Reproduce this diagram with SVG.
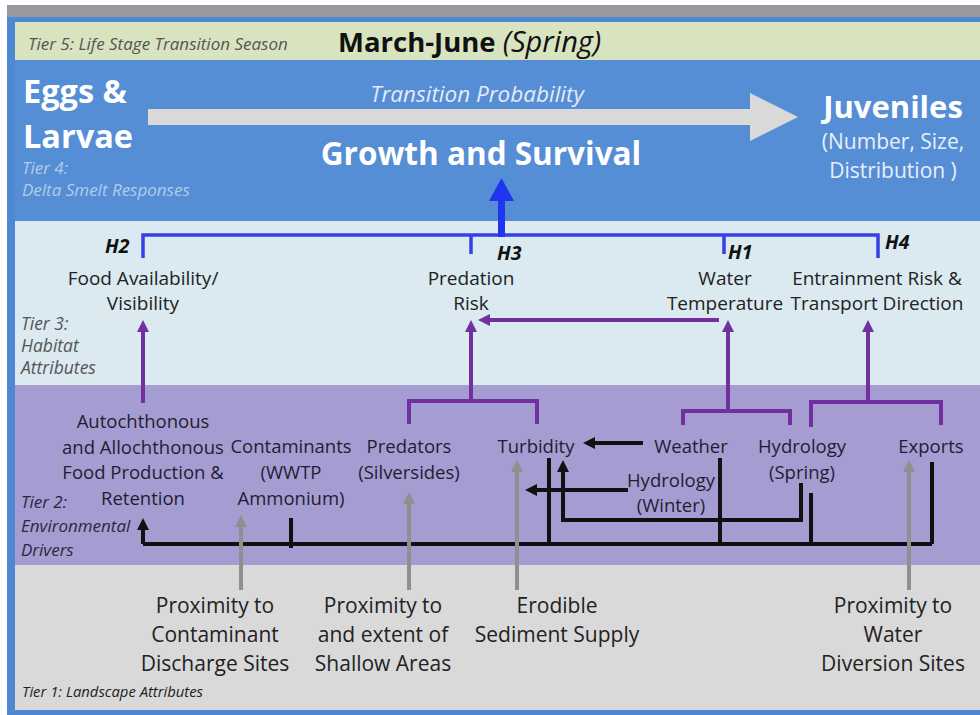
<svg xmlns="http://www.w3.org/2000/svg" width="980" height="715" viewBox="0 0 980 715">
  <style>
    .lbl { font-family: "Open Sans", Lato, "Liberation Sans", sans-serif; }
    .tier { font-family: "Open Sans", Lato, "Liberation Sans", sans-serif; font-style: italic; font-size: 17px; fill: #555; }
    .t3 { font-size: 19px; fill: #222; text-anchor: middle; }
    .t2 { font-size: 18.5px; fill: #1f1d33; text-anchor: middle; }
    .t1 { font-size: 21px; fill: #222; text-anchor: middle; }
    .hyp { font-size: 19.5px; font-weight: bold; font-style: italic; fill: #111; }
    .pur { fill: none; stroke: #7030a0; stroke-width: 4; }
    .blk { fill: none; stroke: #111; stroke-width: 4; }
    .gry { fill: none; stroke: #8f8f8f; stroke-width: 4; }
    .blu { fill: none; stroke: #3441e6; stroke-width: 3.5; }
  </style>
  <defs>
    <marker id="ahPur" markerUnits="userSpaceOnUse" markerWidth="12" markerHeight="12" viewBox="0 0 12 12" refX="2" refY="6" orient="auto">
      <path d="M0,0 L12,6 L0,12 Z" fill="#7030a0"/>
    </marker>
    <marker id="ahBlk" markerUnits="userSpaceOnUse" markerWidth="12" markerHeight="12" viewBox="0 0 12 12" refX="2" refY="6" orient="auto">
      <path d="M0,0 L12,6 L0,12 Z" fill="#111"/>
    </marker>
    <marker id="ahGry" markerUnits="userSpaceOnUse" markerWidth="12" markerHeight="12" viewBox="0 0 12 12" refX="2" refY="6" orient="auto">
      <path d="M0,0 L12,6 L0,12 Z" fill="#8f8f8f"/>
    </marker>
  </defs>

  <!-- frame and tier bands -->
  <rect x="0" y="0" width="980" height="715" fill="#ffffff"/>
  <rect x="7" y="5" width="973" height="13" fill="#98989e"/>
  <rect x="7" y="17" width="973" height="698" fill="#4f88d2"/>
  <rect x="15" y="22" width="965" height="38" fill="#d8e4bf"/>
  <rect x="15" y="60" width="965" height="161" fill="#558ed5"/>
  <rect x="15" y="221" width="965" height="164" fill="#dbe9f1"/>
  <rect x="15" y="385" width="965" height="180" fill="#a59dd1"/>
  <rect x="15" y="565" width="965" height="145" fill="#d9d9d9"/>

  <!-- tier labels -->
  <text class="tier" x="28" y="50">Tier 5: Life Stage Transition Season</text>
  <text class="tier" x="22" y="174" style="fill:#b3cbeb">Tier 4:</text>
  <text class="tier" x="22" y="196" style="fill:#b3cbeb">Delta Smelt Responses</text>
  <text class="tier" x="21" y="330" style="font-size:17.5px">Tier 3:</text>
  <text class="tier" x="21" y="352" style="font-size:17.5px">Habitat</text>
  <text class="tier" x="21" y="374" style="font-size:17.5px">Attributes</text>
  <text class="tier" x="21" y="508" style="fill:#2a2840">Tier 2:</text>
  <text class="tier" x="21" y="532" style="fill:#2a2840">Environmental</text>
  <text class="tier" x="21" y="556" style="fill:#2a2840">Drivers</text>
  <text class="tier" x="22" y="697" style="fill:#222;font-size:14.8px">Tier 1: Landscape Attributes</text>

  <!-- season -->
  <g id="season">
    <text class="lbl" x="338" y="52" style="font-size:27.5px;font-weight:bold;fill:#111">March-June <tspan style="font-weight:normal;font-style:italic;font-size:29px">(Spring)</tspan></text>
  </g>

  <!-- life stages -->
  <g id="eggs-larvae">
    <text class="lbl" x="23" y="103" style="font-size:32.5px;font-weight:bold;fill:#fff">Eggs &amp;</text>
    <text class="lbl" x="23" y="148" style="font-size:32.5px;font-weight:bold;fill:#fff">Larvae</text>
  </g>
  <g id="transition">
    <polygon points="148,109 750,109 750,93 798,117 750,141 750,125 148,125" fill="#d9d9d9"/>
    <text class="lbl" x="477" y="102" style="font-size:22.5px;font-style:italic;fill:#e3ebf7;text-anchor:middle">Transition Probability</text>
  </g>
  <g id="growth-survival">
    <text class="lbl" x="481" y="165" style="font-size:31.5px;font-weight:bold;fill:#fff;text-anchor:middle">Growth and Survival</text>
  </g>
  <g id="juveniles">
    <text class="lbl" x="893" y="118" style="font-size:31px;font-weight:bold;fill:#fff;text-anchor:middle">Juveniles</text>
    <text class="lbl" x="893" y="149" style="font-size:21px;fill:#e8eff9;text-anchor:middle">(Number, Size,</text>
    <text class="lbl" x="893" y="178" style="font-size:21px;fill:#e8eff9;text-anchor:middle">Distribution )</text>
  </g>

  <!-- tier 3: habitat attributes -->
  <g id="food">
    <text class="lbl hyp" x="105" y="253">H2</text>
    <text class="lbl t3" x="143" y="285">Food Availability/</text>
    <text class="lbl t3" x="143" y="310">Visibility</text>
  </g>
  <g id="predation">
    <text class="lbl hyp" x="497" y="259.5">H3</text>
    <text class="lbl t3" x="471" y="285">Predation</text>
    <text class="lbl t3" x="471" y="310">Risk</text>
  </g>
  <g id="water-temp">
    <text class="lbl hyp" x="728" y="258.5">H1</text>
    <text class="lbl t3" x="725" y="285">Water</text>
    <text class="lbl t3" x="725" y="310">Temperature</text>
  </g>
  <g id="entrainment">
    <text class="lbl hyp" x="885" y="249">H4</text>
    <text class="lbl t3" x="877" y="285">Entrainment Risk &amp;</text>
    <text class="lbl t3" x="877" y="310">Transport Direction</text>
  </g>

  <!-- tier 2: environmental drivers -->
  <g id="food-production">
    <text class="lbl t2" x="143" y="428">Autochthonous</text>
    <text class="lbl t2" x="143" y="454">and Allochthonous</text>
    <text class="lbl t2" x="143" y="479">Food Production &amp;</text>
    <text class="lbl t2" x="143" y="505">Retention</text>
  </g>
  <g id="contaminants">
    <text class="lbl t2" x="291" y="453">Contaminants</text>
    <text class="lbl t2" x="291" y="479">(WWTP</text>
    <text class="lbl t2" x="291" y="505">Ammonium)</text>
  </g>
  <g id="predators">
    <text class="lbl t2" x="409" y="453">Predators</text>
    <text class="lbl t2" x="409" y="479">(Silversides)</text>
  </g>
  <g id="turbidity">
    <text class="lbl t2" x="536" y="453">Turbidity</text>
  </g>
  <g id="weather">
    <text class="lbl t2" x="691" y="453">Weather</text>
  </g>
  <g id="hydrology-spring">
    <text class="lbl t2" x="802" y="453">Hydrology</text>
    <text class="lbl t2" x="802" y="479">(Spring)</text>
  </g>
  <g id="hydrology-winter">
    <text class="lbl t2" x="671" y="487">Hydrology</text>
    <text class="lbl t2" x="671" y="512">(Winter)</text>
  </g>
  <g id="exports">
    <text class="lbl t2" x="931" y="453">Exports</text>
  </g>

  <!-- tier 1: landscape attributes -->
  <g id="contaminant-sites">
    <text class="lbl t1" x="215" y="613">Proximity to</text>
    <text class="lbl t1" x="215" y="642">Contaminant</text>
    <text class="lbl t1" x="215" y="671">Discharge Sites</text>
  </g>
  <g id="shallow-areas">
    <text class="lbl t1" x="383" y="613">Proximity to</text>
    <text class="lbl t1" x="383" y="642">and extent of</text>
    <text class="lbl t1" x="383" y="671">Shallow Areas</text>
  </g>
  <g id="sediment">
    <text class="lbl t1" x="557" y="613">Erodible</text>
    <text class="lbl t1" x="557" y="642">Sediment Supply</text>
  </g>
  <g id="diversion-sites">
    <text class="lbl t1" x="893" y="613">Proximity to</text>
    <text class="lbl t1" x="893" y="642">Water</text>
    <text class="lbl t1" x="893" y="671">Diversion Sites</text>
  </g>

  <!-- connectors -->
  <g id="connectors">
    <!-- hypotheses into growth and survival -->
    <path class="blu" d="M143,258 V235 H878 V258 M471,235 V254 M724,235 V254"/>
    <rect x="498" y="198" width="7" height="39" fill="#1f36ee"/>
    <polygon points="489,201 514,201 501.5,178" fill="#1f36ee"/>

    <!-- drivers into habitat attributes -->
    <path class="pur" d="M143,403 V330" marker-end="url(#ahPur)"/>
    <path class="pur" d="M409,424 V401 H537 V424"/>
    <path class="pur" d="M471,401 V330" marker-end="url(#ahPur)"/>
    <path class="pur" d="M719,320 H488" marker-end="url(#ahPur)"/>
    <path class="pur" d="M683,425 V411 H790 V425"/>
    <path class="pur" d="M728,411 V330" marker-end="url(#ahPur)"/>
    <path class="pur" d="M811,427 V402 H941 V425"/>
    <path class="pur" d="M868,402 V330" marker-end="url(#ahPur)"/>

    <!-- driver interactions -->
    <path class="blk" d="M143,544 H932"/>
    <path class="blk" d="M143,544 V528" marker-end="url(#ahBlk)"/>
    <path class="blk" d="M291,518 V548"/>
    <path class="blk" d="M549,458 V544"/>
    <path class="blk" d="M720,458 V544"/>
    <path class="blk" d="M811,493 V546"/>
    <path class="blk" d="M932,462 V544"/>
    <path class="blk" d="M643,443 H593" marker-end="url(#ahBlk)"/>
    <path class="blk" d="M628,490 H535" marker-end="url(#ahBlk)"/>
    <path class="blk" d="M801,483 V520 H563 V470" marker-end="url(#ahBlk)"/>

    <!-- landscape into drivers -->
    <path class="gry" d="M241,590 V525" marker-end="url(#ahGry)"/>
    <path class="gry" d="M409,590 V502" marker-end="url(#ahGry)"/>
    <path class="gry" d="M517,590 V470" marker-end="url(#ahGry)"/>
    <path class="gry" d="M909,590 V470" marker-end="url(#ahGry)"/>
  </g>
</svg>
